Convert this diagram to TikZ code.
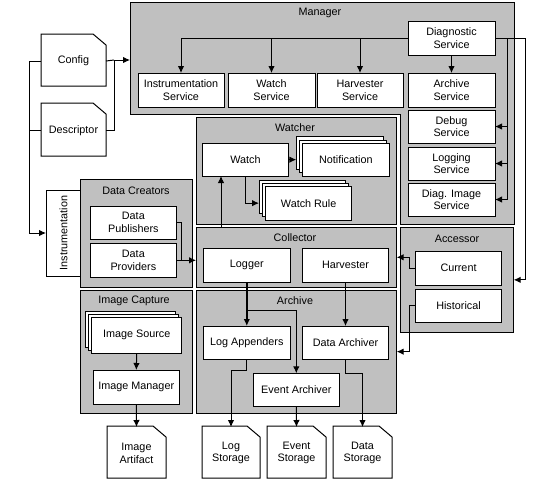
\documentclass[tikz,border=0pt]{standalone}
\usepackage{fontspec}
\setmainfont{Liberation Sans}
\usepackage{graphicx}
\usetikzlibrary{arrows.meta}
\definecolor{grp}{RGB}{192,192,192}
\newcommand\fs{\fontsize{10.8}{12.7}\selectfont}
\tikzset{
 wbox/.style={draw, fill=white, inner sep=0pt, outer sep=0pt, align=center, font=\fs},
 gbox/.style={draw, fill=grp, inner sep=0pt, outer sep=0pt},
 lbl/.style={inner sep=0pt, outer sep=0pt, font=\fs},
 arr/.style={-{Latex[length=7pt,width=6.5pt]}},
}
\newcommand\mybox[7][wbox]{\node[#1, minimum width={(#5-#3)*1pt}, minimum height={(#6-#4)*1pt}] (#2) at ({(#3+#5)/2},{(#4+#6)/2}) {#7};}
\newcommand\mydoc[6]{%
 \draw[fill=white] (#2,#3) -- ({#4-13},#3) -- (#4,{#3+11}) -- (#4,#5) -- (#2,#5) -- cycle;
 \node[lbl, align=center, minimum width={(#4-#2)*1pt}, minimum height={(#5-#3)*1pt}] (#1) at ({(#2+#4)/2},{(#3+#5)/2+1}) {#6};}
\begin{document}
\begin{tikzpicture}[x=1pt,y=-1pt,line width=1pt]
\useasboundingbox[fill=white] (0,0) rectangle (556,480);
% Manager
\draw[fill=grp] (130,2) -- (514,2) -- (514,224) -- (400,224) -- (400,114) -- (130,114) -- cycle;
\node[lbl] (mgrL) at (320,13) {Manager};
\coordinate (mgrW) at (130,60);
\mybox{diag}{408}{21}{495}{55}{Diagnostic\\Service}
\mybox{instS}{138}{73}{224}{107}{Instrumentation\\Service}
\mybox{watchS}{228}{73}{315}{107}{Watch\\Service}
\mybox{harvS}{317}{73}{403}{107}{Harvester\\Service}
\mybox{archS}{408}{73}{495}{107}{Archive\\Service}
\mybox{debugS}{408}{110}{495}{143}{Debug\\Service}
\mybox{logS}{408}{147}{495}{180}{Logging\\Service}
\mybox{imgS}{408}{183}{495}{216}{Diag. Image\\Service}
% documents
\mydoc{config}{41}{34}{106}{86}{Config}
\mydoc{desc}{41}{103}{106}{156}{Descriptor}
\mydoc{imgArt}{107}{426}{166}{478}{Image\\Artifact}
\mydoc{logSt}{202}{426}{260}{478}{Log\\Storage}
\mydoc{evSt}{267}{426}{326}{478}{Event\\Storage}
\mydoc{dataSt}{333}{426}{392}{478}{Data\\Storage}
% Instrumentation & Data creators
\mybox{instr}{46}{190}{81}{276}{\rotatebox{90}{Instrumentation}}
\mybox[gbox]{dataCr}{80}{179.3}{192.5}{287.3}{}
\node[lbl] (dataCrL) at (136,191) {Data Creators};
\mybox{dPub}{90}{206}{176.7}{239.3}{Data\\Publishers}
\mybox{dProv}{90}{243.3}{176.7}{277.3}{Data\\Providers}
% Image capture
\mybox[gbox]{imgCap}{80}{290}{192.5}{413.3}{}
\node[lbl] (imgCapL) at (134,301) {Image Capture};
\mybox{imgSrcA}{85.3}{311}{175.3}{347}{}
\mybox{imgSrcB}{88.3}{314}{178.3}{350}{}
\mybox{imgSrc}{91.7}{317.3}{181.7}{353.3}{Image Source}
\mybox{imgMgr}{93.3}{370}{179.3}{404.3}{Image Manager}
% Watcher
\mybox[gbox]{watcher}{196}{117.3}{396.7}{224.3}{}
\node[lbl] (watcherL) at (295,128) {Watcher};
\mybox{watch}{202.3}{143.3}{288.7}{176}{Watch}
\mybox{notifA}{296.3}{136.7}{383.3}{169.4}{}
\mybox{notifB}{299.3}{140}{386.3}{172.7}{}
\mybox{notif}{302.3}{143.3}{389.3}{176}{Notification}
\mybox{ruleA}{259}{180}{345.3}{213.7}{}
\mybox{ruleB}{262.3}{183}{348.7}{216.7}{}
\mybox{rule}{265.7}{186.3}{351.7}{220}{Watch Rule}
% Collector
\mybox[gbox]{coll}{196}{227.3}{396.7}{287.3}{}
\node[lbl] (collL) at (295,238) {Collector};
\mybox{logger}{203.3}{248.3}{290.3}{282.3}{Logger}
\mybox{harv}{302.3}{248.3}{388.7}{282.3}{Harvester}
% Archive
\mybox[gbox]{archive}{196}{290}{396.7}{413.3}{}
\node[lbl] (archiveL) at (295,301) {Archive};
\mybox{logApp}{203.3}{326}{290.3}{359.3}{Log Appenders}
\mybox{dArch}{302.3}{326}{388.7}{359.3}{Data Archiver}
\mybox{evArch}{253.3}{373.3}{339.3}{406}{Event Archiver}
% Accessor
\mybox[gbox]{acc}{400.3}{227.7}{513.7}{332}{}
\node[lbl] (accL) at (457,239) {Accessor};
\mybox{current}{415.3}{251}{501.7}{285.3}{Current}
\mybox{hist}{415.3}{289.3}{501.7}{322.3}{Historical}
% ---- connectors ----
\coordinate (busM) at (507,38);
\coordinate (busR) at (525,38);
\draw[arr] (diag.west) -| (instS.north);
\draw[arr] (watchS.north |- diag.west) -- (watchS.north);
\draw[arr] (harvS.north |- diag.west) -- (harvS.north);
\draw[arr] (diag.south) -- (archS.north);
\draw[arr] (diag.east) -- (busR) |- (acc.east);
\draw (busM) -- (imgS.east -| busM);
\draw[arr] (debugS.east -| busM) -- (debugS.east);
\draw[arr] (logS.east -| busM) -- (logS.east);
\draw[arr] (imgS.east -| busM) -- (imgS.east);
% config / descriptor
\coordinate (cj) at (114,60);
\coordinate (lb) at (29,233);
\draw (config.east) -- (cj);
\draw (desc.east) -| (cj);
\draw[arr] (cj) -- (mgrW);
\draw[arr] (config.west) -| (lb) -- (instr.west);
\draw (desc.west) -- (desc.west -| lb);
% data creators
\coordinate (dj) at (181,260.3);
\draw (dPub.east) -| (dj);
\draw[arr] (dProv.east) -- (dProv.east -| coll.west);
% watcher
\draw[arr] (watch.east) -- (notif.west -| notifA.west);
\draw[arr] (watch.south) |- (rule.west -| ruleA.west);
\draw[arr] ([xshift=-24.5pt]watch.south |- coll.north) -- ([xshift=-24.5pt]watch.south);
% collector / archive
\draw[arr, line width=2pt] (logger.south) -- (logApp.north);
\draw[arr] (logger.south) -- ++(0,28) -| (evArch.north);
\draw[arr] (harv.south) -- (dArch.north);
\draw[arr] (logApp.south) -- ++(0,11) -| (logSt.north);
\draw[arr] (evArch.south) -- (evSt.north);
\draw[arr] (dArch.south) -- ++(0,14) -| (dataSt.north);
% image capture
\draw[arr] (imgSrc.south) -- (imgMgr.north);
\draw[arr] (imgMgr.south) -- (imgArt.north);
% accessor
\draw[arr] (current.west) -- ++(-6,0) |- (coll.east);
\draw[arr] (hist.west) -- ++(-6,0) |- (archive.east);
\end{tikzpicture}
\end{document}
